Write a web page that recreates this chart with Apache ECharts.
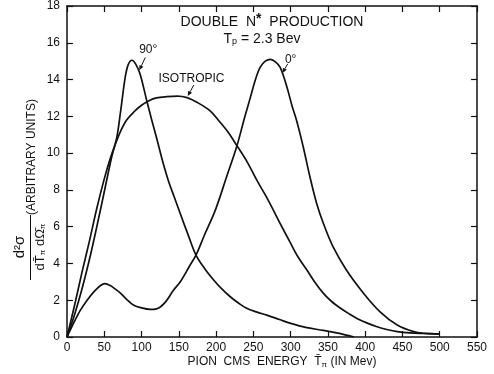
<!DOCTYPE html>
<html>
<head>
<meta charset="utf-8">
<script src="https://cdn.jsdelivr.net/npm/echarts@6/dist/echarts.min.js"></script>
<style>
  html, body { margin: 0; padding: 0; background: #fff; }
  #chart { width: 494px; height: 374px; }
</style>
</head>
<body>
<div id="chart"></div>
<script>
// pion energy (MeV) vs d2sigma
const deg90 = [
  [0, 0], [10, 1.2], [20, 2.6], [30, 4.2], [40, 6.0], [50, 7.9], [60, 9.8],
  [67, 10.9], [72, 12.3], [78, 14.1], [82, 14.8], [87, 15.05], [92, 14.85],
  [98, 14.3], [107, 12.85], [114, 11.75], [121, 10.7], [128, 9.6], [136, 8.5],
  [144, 7.6], [152, 6.7], [163, 5.5], [173, 4.45], [185, 3.7], [197, 3.09],
  [208, 2.6], [219, 2.19], [230, 1.85], [241, 1.56], [255, 1.35], [268, 1.19],
  [285, 0.95], [300, 0.74], [320, 0.52], [344, 0.36], [362, 0.22], [375, 0.1],
  [385, 0]
];
const isotropic = [
  [0, 0], [10, 1.7], [20, 3.5], [30, 5.2], [40, 7.0], [50, 8.6], [58, 9.7],
  [65, 10.5], [72, 11.2], [80, 11.8], [90, 12.25], [100, 12.6], [110, 12.85],
  [120, 13.0], [134, 13.07], [148, 13.1], [161, 13.02], [175, 12.75], [192, 12.3],
  [204, 11.75], [215, 11.2], [228, 10.4], [242, 9.5], [255, 8.5], [270, 7.43],
  [286, 6.17], [299, 5.17], [310, 4.35], [322, 3.63], [333, 2.95], [344, 2.37],
  [355, 1.93], [367, 1.56], [378, 1.27], [389, 1.01], [402, 0.77], [416, 0.56],
  [429, 0.41], [443, 0.29], [460, 0.22], [480, 0.19], [500, 0.16]
];
const deg0 = [
  [0, 0], [10, 0.85], [18, 1.46], [27, 2.0], [36, 2.45], [45, 2.8], [51, 2.9],
  [58, 2.8], [65, 2.6], [72, 2.37], [80, 2.05], [89, 1.74], [100, 1.58],
  [112, 1.5], [120, 1.53], [126, 1.66], [133, 1.95], [143, 2.55], [152, 3.0],
  [165, 3.9], [173, 4.45], [185, 5.6], [199, 6.9], [214, 8.7], [228, 10.4],
  [238, 11.9], [246, 13.03], [252, 13.9], [259, 14.66], [266, 15.0], [273, 15.1],
  [280, 14.95], [286, 14.66], [295, 13.6], [302, 12.55], [308, 11.77], [317, 10.32],
  [326, 8.69], [335, 7.25], [344, 6.17], [357, 4.9], [375, 3.63], [398, 2.37],
  [420, 1.37], [443, 0.65], [465, 0.29], [480, 0.2], [500, 0.17]
];

// curve labels: text, label position, arrow tail, arrow tip (data coords)
const curveNotes = [
  { text: "90°", at: [109, 15.6], from: [105, 15.2], to: [97, 14.5] },
  { text: "ISOTROPIC", at: [167, 14.05], from: [170, 13.7], to: [162, 13.1] },
  { text: "0°", at: [300, 15.1], from: [296, 14.85], to: [289, 14.35] }
];

const ink = "#111";
const font = '"Liberation Sans", Arial, sans-serif';

const chart = echarts.init(document.getElementById("chart"), null, { renderer: "canvas" });

const axisLine = { show: true, onZero: false, lineStyle: { color: ink, width: 1.5 } };
const axisTick = { show: true, inside: true, length: 6, lineStyle: { color: ink, width: 1.2 } };

const lineSeries = (name, data) => ({
  name,
  type: "line",
  data,
  smooth: 0.35,
  showSymbol: false,
  lineStyle: { color: ink, width: 1.7 },
  animation: false,
});

chart.setOption({
  backgroundColor: "#fff",
  animation: false,
  textStyle: { fontFamily: font, color: ink },
  grid: { left: 67, right: 17, top: 5, bottom: 37 },
  xAxis: [
    {
      type: "value", position: "bottom", min: 0, max: 550, interval: 50,
      axisLine, axisTick, splitLine: { show: false },
      axisLabel: { color: ink, fontSize: 12, fontFamily: font, margin: 5 },
    },
    {
      type: "value", position: "top", min: 0, max: 550, interval: 50,
      axisLine, axisTick, splitLine: { show: false },
      axisLabel: { show: false },
    },
  ],
  yAxis: [
    {
      type: "value", position: "left", min: 0, max: 18, interval: 2,
      axisLine, axisTick, splitLine: { show: false },
      axisLabel: { color: ink, fontSize: 12, fontFamily: font, margin: 7 },
    },
    {
      type: "value", position: "right", min: 0, max: 18, interval: 2,
      axisLine, axisTick, splitLine: { show: false },
      axisLabel: { show: false },
    },
  ],
  series: [
    lineSeries("90°", deg90),
    lineSeries("ISOTROPIC", isotropic),
    lineSeries("0°", deg0),
  ],
});

// annotations, drawn once the scales exist
const px = (p) => chart.convertToPixel({ gridIndex: 0 }, p);
const graphics = [];

curveNotes.forEach((n) => {
  const at = px(n.at), a = px(n.from), b = px(n.to);
  graphics.push({
    type: "text", x: at[0], y: at[1],
    style: { text: n.text, fill: ink, font: "12px " + font, align: "center", verticalAlign: "middle" },
  });
  const ang = Math.atan2(b[1] - a[1], b[0] - a[0]);
  const hl = 5, hw = 2.2;
  const bx = b[0] - hl * Math.cos(ang), by = b[1] - hl * Math.sin(ang);
  graphics.push({
    type: "line",
    shape: { x1: a[0], y1: a[1], x2: bx, y2: by },
    style: { stroke: ink, lineWidth: 1 },
  });
  graphics.push({
    type: "polygon",
    shape: { points: [
      [b[0], b[1]],
      [bx + hw * Math.sin(ang), by - hw * Math.cos(ang)],
      [bx - hw * Math.sin(ang), by + hw * Math.cos(ang)],
    ] },
    style: { fill: ink },
  });
});

// heading inside the plot
graphics.push({
  type: "text", x: 272, y: 22,
  style: {
    text: "DOUBLE  N{sup|*}  PRODUCTION",
    rich: { sup: { fontSize: 14, fontWeight: "bold", verticalAlign: "top", padding: [0, 0, 6, 0] } },
    fill: ink, font: "14px " + font, align: "center", verticalAlign: "middle",
  },
});
graphics.push({
  type: "text", x: 262, y: 39,
  style: {
    text: "T{sub|p} = 2.3 Bev",
    rich: { sub: { fontSize: 9, padding: [6, 0, 0, 0] } },
    fill: ink, font: "14px " + font, align: "center", verticalAlign: "middle",
  },
});

// x axis title
graphics.push({
  type: "text", x: 282, y: 362,
  style: {
    text: "PION  CMS  ENERGY  T\u0304{sub|π} (IN Mev)",
    rich: { sub: { fontSize: 8, padding: [5, 0, 0, 0] } },
    fill: ink, font: "12px " + font, align: "center", verticalAlign: "middle",
  },
});

// y axis title: fraction + units, rotated
const rot = Math.PI / 2;
graphics.push({
  type: "text", x: 20, y: 247, rotation: rot,
  style: { text: "d²σ", fill: ink, font: "15px " + font, align: "center", verticalAlign: "middle" },
});
graphics.push({
  type: "line",
  shape: { x1: 30.5, y1: 215, x2: 30.5, y2: 280 },
  style: { stroke: ink, lineWidth: 1 },
});
graphics.push({
  type: "text", x: 40, y: 247, rotation: rot,
  style: {
    text: "dT\u0304{sub|π} dΩ\u0304{sub|π}",
    rich: { sub: { fontSize: 8, padding: [5, 0, 0, 0] } },
    fill: ink, font: "13px " + font, align: "center", verticalAlign: "middle",
  },
});
graphics.push({
  type: "text", x: 32, y: 157, rotation: rot,
  style: { text: "(ARBITRARY UNITS)", fill: ink, font: "12px " + font, align: "center", verticalAlign: "middle" },
});

chart.setOption({ graphic: graphics });
</script>
</body>
</html>
